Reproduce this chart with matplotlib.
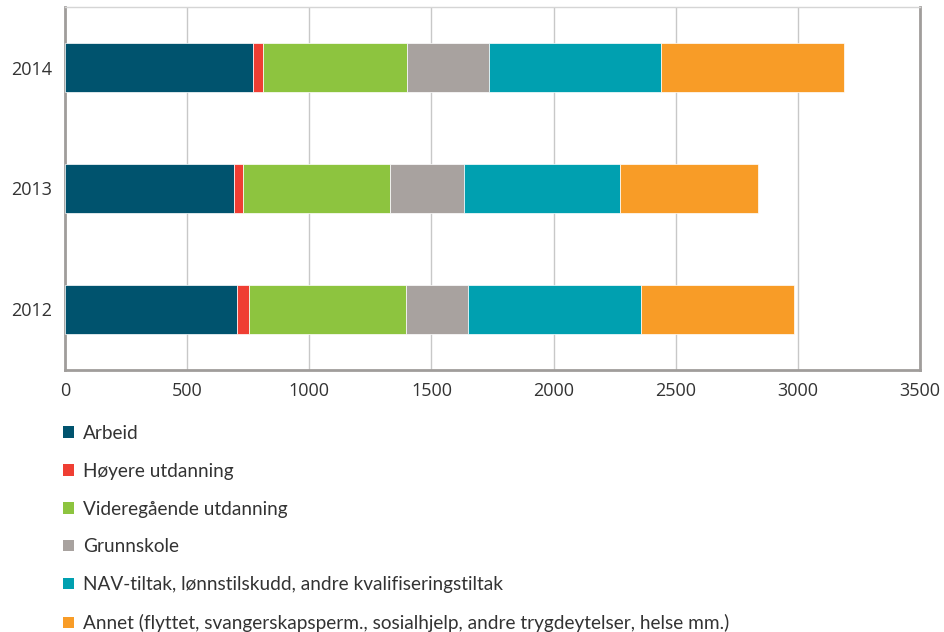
import matplotlib
matplotlib.use("Agg")
import matplotlib.pyplot as plt
from matplotlib.patches import Patch
import numpy as np

years = ["2012", "2013", "2014"]
categories = [
    "Arbeid",
    "Høyere utdanning",
    "Videregående utdanning",
    "Grunnskole",
    "NAV-tiltak, lønnstilskudd, andre kvalifiseringstiltak",
    "Annet (flyttet, svangerskapsperm., sosialhjelp, andre trygdeytelser, helse mm.)",
]
arbeid = [704, 691, 771]
hoyere = [51, 38, 40]
videregaende = [639, 603, 591]
grunnskole = [256, 302, 334]
nav = [709, 639, 703]
annet = [626, 562, 752]
series = [arbeid, hoyere, videregaende, grunnskole, nav, annet]
colors = ["#00536e", "#ef3e33", "#8dc43f", "#a8a29f", "#00a0b0", "#f89c27"]

plt.rcParams['font.family'] = ['Open Sans', 'DejaVu Sans']
txt = "#333333"

fig = plt.figure(figsize=(9.45, 6.32), dpi=100)
ax = fig.add_axes([0.0688, 0.4146, 0.9047, 0.5743])

y = np.arange(len(years))
left = np.zeros(len(years))
for vals, col in zip(series, colors):
    ax.barh(y, vals, left=left, height=0.4, color=col, edgecolor="white",
            linewidth=0.5, zorder=3)
    left += np.array(vals)

ax.set_xlim(0, 3500)
ax.set_ylim(-0.5, 2.5)
ax.set_xticks(np.arange(0, 3501, 500))
ax.set_yticks(y)
ax.set_yticklabels(years)
ax.tick_params(axis="both", length=0, labelsize=13, colors=txt)
ax.tick_params(axis="x", pad=9)
ax.tick_params(axis="y", pad=9)
ax.grid(axis="x", color="#c8c8c8", linewidth=1.0, zorder=0)

for side in ["left", "bottom", "right"]:
    ax.spines[side].set_color("#a09d9b")
    ax.spines[side].set_linewidth(2)
ax.spines["top"].set_color("#d5d5d5")
ax.spines["top"].set_linewidth(1)

# legend under the plot, one column
handles = [Patch(facecolor=c, edgecolor="none") for c in colors]
fig.legend(handles, categories, loc="upper left", bbox_to_anchor=(0.067, 0.328),
           frameon=False, handlelength=0.55, handleheight=0.55, handletextpad=0.5,
           labelspacing=1.1, borderaxespad=0, borderpad=0,
           prop={"family": ["Lato", "DejaVu Sans"], "size": 13.7},
           labelcolor=txt)

fig.savefig("out.png", dpi=100)
